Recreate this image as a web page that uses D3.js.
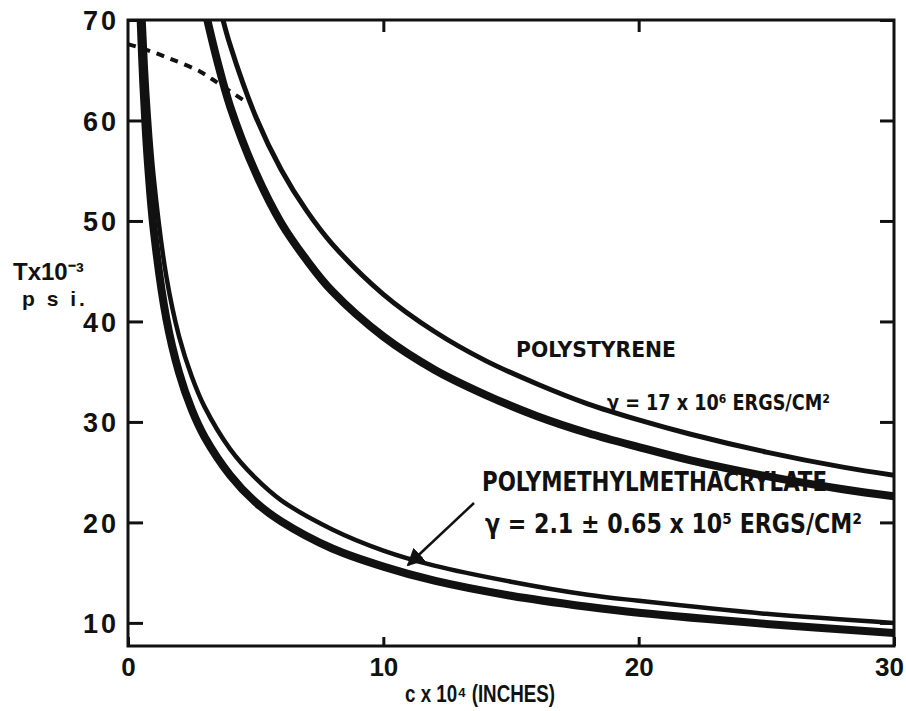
<!DOCTYPE html>
<html>
<head>
<meta charset="utf-8">
<script src="https://cdn.jsdelivr.net/npm/d3@7"></script>
<style>
  body { margin: 0; background: #fff; }
  svg text { font-family: "Liberation Sans", Arial, sans-serif; fill: #111; font-weight: bold; }
  .lbl { font-family: "Liberation Sans Narrow", "DejaVu Sans Condensed", "Liberation Sans", sans-serif; }
</style>
</head>
<body>
<div id="chart"></div>
<script>
// tick values
const xTicks = [0, 10, 20, 30];
const yTicks = [10, 20, 30, 40, 50, 60, 70];

// polystyrene, two bounding curves (c x 10^4 in, T x 10^-3 psi)
const psUpperC = [3.6, 4, 5, 6, 7, 8, 10, 12, 14, 16, 18, 20, 22, 25, 28, 30];
const psUpperT = [71.2, 67.5, 60.4, 55.1, 51.0, 47.7, 42.7, 39.0, 36.1, 33.8, 31.8, 30.2, 28.8, 27.0, 25.5, 24.7];
const psLowerC = [2.9, 3, 3.5, 4, 5, 6, 7, 8, 10, 12, 14, 16, 18, 20, 22, 25, 28, 30];
const psLowerT = [72.4, 71.2, 65.9, 61.4, 54.8, 49.8, 46.1, 43.0, 38.5, 35.2, 32.7, 30.6, 28.9, 27.5, 26.2, 24.6, 23.3, 22.6];

// polymethylmethacrylate, two bounding curves
const pmmaC = [0.45, 0.5, 0.6, 0.7, 0.8, 1, 1.5, 2, 2.5, 3, 4, 5, 6, 8, 10, 12, 15, 18, 20, 25, 30];
const pmmaUpperT = [81.2, 77.1, 70.4, 65.1, 60.9, 54.5, 44.5, 38.5, 34.5, 31.5, 27.3, 24.4, 22.2, 19.3, 17.2, 15.7, 14.1, 12.8, 12.2, 10.9, 10.0];
const pmmaLowerT = [73.5, 69.7, 63.6, 58.9, 55.1, 49.3, 40.3, 34.9, 31.2, 28.5, 24.7, 22.0, 20.1, 17.4, 15.6, 14.2, 12.7, 11.6, 11.0, 9.9, 9.0];

// dashed curve at upper left
const dashC = [0, 0.4, 1.1, 1.6, 2.1, 2.8, 3.3, 4.0, 4.6];
const dashT = [67.6, 67.3, 66.7, 66.2, 65.7, 64.9, 64.1, 62.9, 61.9];

const width = 906, height = 711;
const mLeft = 128, mRight = 894, mTop = 20, mBottom = 646;

const svg = d3.select("#chart").append("svg")
    .attr("width", width)
    .attr("height", height)
    .style("background", "#fff");

const x = d3.scaleLinear().domain([0, 30]).range([mLeft, mRight]);
const y = d3.scaleLinear().domain([7.7, 70]).range([mBottom, mTop]);

svg.append("clipPath").attr("id", "plot")
  .append("rect")
    .attr("x", mLeft).attr("y", mTop)
    .attr("width", mRight - mLeft).attr("height", mBottom - mTop);

// axes, ticks pointing inward
const yLeft = svg.append("g")
    .attr("transform", `translate(${mLeft},0)`)
    .call(d3.axisLeft(y).tickValues(yTicks).tickSize(-15).tickPadding(9));
yLeft.selectAll("text").style("font-size", "27px").style("letter-spacing", "3px").attr("dy", "0.36em");

svg.append("g")
    .attr("transform", `translate(${mRight},0)`)
    .call(d3.axisRight(y).tickValues(yTicks).tickSize(-14).tickFormat(""));

const xBottom = svg.append("g")
    .attr("transform", `translate(0,${mBottom})`)
    .call(d3.axisBottom(x).tickValues(xTicks).tickSize(-9).tickPadding(10));
xBottom.selectAll("text").style("font-size", "26px").attr("dy", "0.75em");
xBottom.selectAll("text").filter(d => d === 30).attr("x", -5);

svg.append("g")
    .attr("transform", `translate(0,${mTop})`)
    .call(d3.axisTop(x).tickValues([10, 20]).tickSize(-12).tickFormat(""));

svg.selectAll(".domain").remove();
svg.selectAll(".tick line").attr("stroke", "#111").attr("stroke-width", 3);

svg.append("rect")
    .attr("x", mLeft).attr("y", mTop)
    .attr("width", mRight - mLeft).attr("height", mBottom - mTop)
    .attr("fill", "none")
    .attr("stroke", "#111")
    .attr("stroke-width", 3);

// curves
const line = d3.line()
    .x(d => x(d[0]))
    .y(d => y(d[1]))
    .curve(d3.curveCatmullRom);

const curves = [
  {c: psUpperC, t: psUpperT, w: 5},
  {c: psLowerC, t: psLowerT, w: 8},
  {c: pmmaC, t: pmmaUpperT, w: 4.5},
  {c: pmmaC, t: pmmaLowerT, w: 8}
];

const g = svg.append("g").attr("clip-path", "url(#plot)");

g.selectAll("path.curve")
  .data(curves)
  .enter()
  .append("path")
    .attr("class", "curve")
    .attr("d", d => line(d.c.map((v, i) => [v, d.t[i]])))
    .attr("fill", "none")
    .attr("stroke", "#111")
    .attr("stroke-width", d => d.w);

g.append("path")
    .attr("d", line(dashC.map((v, i) => [v, dashT[i]])))
    .attr("fill", "none")
    .attr("stroke", "#111")
    .attr("stroke-width", 4)
    .attr("stroke-dasharray", "8,7");

// labels
function label(px, py, size, len, s) {
  return svg.append("text")
      .attr("class", "lbl")
      .attr("x", px).attr("y", py)
      .style("font-size", size + "px")
      .attr("textLength", len)
      .attr("lengthAdjust", "spacingAndGlyphs")
      .text(s);
}

label(516, 357, 22, 160, "POLYSTYRENE");
label(607, 410, 22, 223, "γ = 17 x 10⁶ ERGS/CM²");
label(482, 491, 26, 345, "POLYMETHYLMETHACRYLATE");
label(485, 533, 27, 377, "γ = 2.1 ± 0.65 x 10⁵ ERGS/CM²");

// arrow to the PMMA curves
svg.append("defs").append("marker")
    .attr("id", "head")
    .attr("viewBox", "0 0 10 10")
    .attr("refX", 9).attr("refY", 5)
    .attr("markerWidth", 7).attr("markerHeight", 7)
    .attr("orient", "auto")
  .append("path")
    .attr("d", "M0,0 L10,5 L0,10 z")
    .attr("fill", "#111");

svg.append("line")
    .attr("x1", 474).attr("y1", 503)
    .attr("x2", 408).attr("y2", 565)
    .attr("stroke", "#111")
    .attr("stroke-width", 2.5)
    .attr("marker-end", "url(#head)");

// axis titles
svg.append("text").attr("x", 13).attr("y", 280)
    .style("font-size", "24px").text("Tx10⁻³");
svg.append("text").attr("x", 22).attr("y", 306)
    .style("font-size", "21px").style("letter-spacing", "3px").text("p s i.");

svg.append("text").attr("x", 405).attr("y", 702)
    .style("font-size", "23px")
    .attr("textLength", 150).attr("lengthAdjust", "spacingAndGlyphs")
    .text("c x 10⁴ (INCHES)");
</script>
</body>
</html>
